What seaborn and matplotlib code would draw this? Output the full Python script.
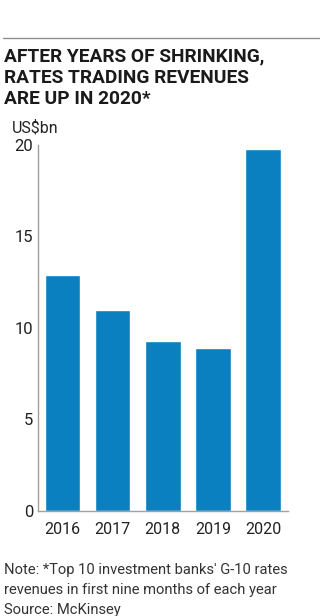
import matplotlib
matplotlib.use("Agg")
import matplotlib.pyplot as plt
import seaborn as sns
import pandas as pd

years = ["2016", "2017", "2018", "2019", "2020"]
revenues = [12.9, 11.0, 9.3, 8.9, 19.8]
y_ticks = [0, 5, 10, 15, 20]
title_lines = ["AFTER YEARS OF SHRINKING,", "RATES TRADING REVENUES", "ARE UP IN 2020*"]
unit_label = "US$bn"
note_lines = ["Note: *Top 10 investment banks' G-10 rates",
              "revenues in first nine months of each year",
              "Source: McKinsey"]

sns.set_theme(style="white")
plt.rcParams['font.family'] = ['Roboto', 'DejaVu Sans']

df = pd.DataFrame({"year": years, "revenue": revenues})

W, H = 320, 616
fig = plt.figure(figsize=(W / 100, H / 100), dpi=100)
ax = fig.add_axes([37.5 / W, 1 - 510.7 / H, (288 - 37.5) / W, (510.7 - 145) / H])

sns.barplot(data=df, x="year", y="revenue", color="#0a80c0", saturation=1,
            width=0.71, ax=ax)

ax.set_xlim(-0.5, 4.5)
ax.set_ylim(0, 20)
ax.set_yticks(y_ticks)
ax.set_xlabel("")
ax.set_ylabel("")
for s in ["top", "right"]:
    ax.spines[s].set_visible(False)
for s in ["left", "bottom"]:
    ax.spines[s].set_color("#a0a0a0")
    ax.spines[s].set_linewidth(1.0)
ax.tick_params(axis="y", direction="in", length=4, width=1, color="#a0a0a0",
               labelsize=12, labelcolor="#222222", pad=3)
ax.tick_params(axis="x", length=0, labelsize=11.5, labelcolor="#222222", pad=8)

# top rule
fig.add_artist(plt.Line2D([3 / W, 1], [1 - 38 / H, 1 - 38 / H], color="#909090", lw=1))

for i, line in enumerate(title_lines):
    fig.text(4 / W, 1 - (61 + i * 21.6) / H, line, fontsize=13.8, fontweight="bold",
             color="#1a1a1a", va="baseline", ha="left")
fig.text(12 / W, 1 - 132 / H, unit_label, fontsize=11.5, color="#222222",
         va="baseline", ha="left")
for i, line in enumerate(note_lines):
    fig.text(4 / W, 1 - (574 + i * 20) / H, line, fontsize=10.6, color="#333333",
             va="baseline", ha="left")

fig.savefig("out.png", dpi=100)
